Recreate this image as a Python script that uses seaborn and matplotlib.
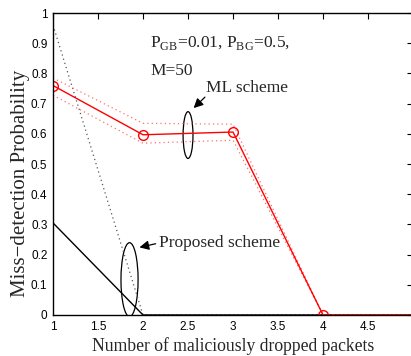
import matplotlib
matplotlib.use("Agg")
import matplotlib.pyplot as plt
from matplotlib.patches import Ellipse
import numpy as np
import pandas as pd
import seaborn as sns

# Data
dropped = [1, 2, 3, 4, 5]
ml_mean = [0.760, 0.597, 0.606, 0.0, 0.0]
ml_upper = [0.785, 0.635, 0.632, 0.0, 0.0]
ml_lower = [0.728, 0.569, 0.579, 0.0, 0.0]
prop_mean = [0.305, 0.0, 0.0, 0.0, 0.0]
prop_upper = [0.960, 0.0, 0.0, 0.0, 0.0]

xticks = [1, 1.5, 2, 2.5, 3, 3.5, 4, 4.5]
xtick_labels = ["1", "1.5", "2", "2.5", "3", "3.5", "4", "4.5"]
yticks = [0, 0.1, 0.2, 0.3, 0.4, 0.5, 0.6, 0.7, 0.8, 0.9, 1]
ytick_labels = ["0", "0.1", "0.2", "0.3", "0.4", "0.5", "0.6", "0.7", "0.8", "0.9", "1"]

sns.set_theme(style="white")
plt.rcParams["font.family"] = ["Liberation Sans", "DejaVu Sans"]

fig = plt.figure(figsize=(4.11, 3.56), dpi=100)
ax = fig.add_axes([0.129, 0.1152, 0.876, 0.848])

df = pd.DataFrame({"x": dropped, "ml": ml_mean, "mlu": ml_upper, "mll": ml_lower,
                   "pm": prop_mean, "pu": prop_upper})

sns.lineplot(data=df, x="x", y="pu", ax=ax, color="#555555", linestyle=(0, (1, 2.5)), linewidth=0.9)
sns.lineplot(data=df, x="x", y="pm", ax=ax, color="black", linewidth=1.0)
sns.lineplot(data=df, x="x", y="mlu", ax=ax, color="#ff7070", linestyle=(0, (1, 2.5)), linewidth=0.9)
sns.lineplot(data=df, x="x", y="mll", ax=ax, color="#ff7070", linestyle=(0, (1, 2.5)), linewidth=0.9)
sns.lineplot(data=df, x="x", y="ml", ax=ax, color="red", linewidth=1.0,
             marker="o", markersize=7, markerfacecolor="none", markeredgecolor="red",
             markeredgewidth=1.0, markevery=[0, 1, 2, 3])

ax.set_xlim(1, 5)
ax.set_ylim(0, 1)
ax.set_xticks(xticks)
ax.set_xticklabels(xtick_labels)
ax.set_yticks(yticks)
ax.set_yticklabels(ytick_labels)
ax.tick_params(direction="in", length=4, width=0.8, top=True, right=True,
               labelsize=8.5, pad=4, colors="black")
for sp in ax.spines.values():
    sp.set_color("black")
    sp.set_linewidth(1.0)

serif = ["Liberation Serif", "DejaVu Serif"]
ax.set_xlabel("Number of maliciously dropped packets", family=serif, fontsize=12.7, labelpad=3)
ax.set_ylabel("Miss\u2212detection Probability", family=serif, fontsize=15)
ax.yaxis.set_label_coords(-0.064, 0.437)

ax.text(2.08, 0.887, r"P$_{\mathregular{GB}}$=0.01, P$_{\mathregular{BG}}$=0.5,",
        family=serif, fontsize=12.5, ha="left", va="baseline")
ax.text(2.08, 0.795, "M=50", family=serif, fontsize=12.5, ha="left", va="baseline")
ax.text(2.70, 0.738, "ML scheme", family=serif, fontsize=12.5, ha="left", va="baseline")
ax.text(2.18, 0.24, "Proposed scheme", family=serif, fontsize=12.5, ha="left", va="center")

ax.add_patch(Ellipse((2.50, 0.596), 0.11, 0.155, fill=False, edgecolor="black", linewidth=0.9))
ax.add_patch(Ellipse((1.85, 0.117), 0.19, 0.245, fill=False, edgecolor="black", linewidth=0.9))

ax.annotate("", xy=(2.54, 0.679), xytext=(2.71, 0.728),
            arrowprops=dict(arrowstyle="-|>", color="black", lw=0.9, mutation_scale=14))
ax.annotate("", xy=(1.93, 0.222), xytext=(2.17, 0.238),
            arrowprops=dict(arrowstyle="-|>", color="black", lw=0.9, mutation_scale=14))

fig.savefig("out.png", dpi=100)
